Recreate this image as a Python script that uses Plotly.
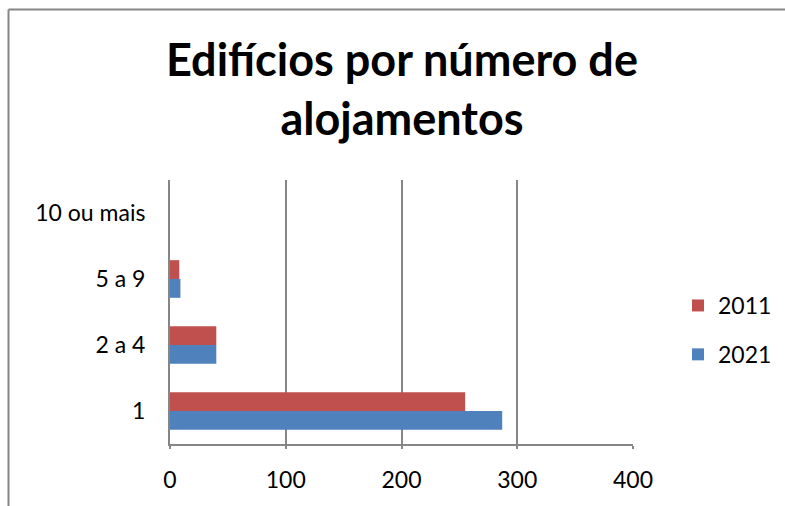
import plotly.graph_objects as go

categories = ["1", "2 a 4", "5 a 9", "10 ou mais"]
values_2021 = [287, 40, 9, 0]
values_2011 = [255, 40, 8, 0]
series_names = ["2021", "2011"]
tick_values = [0, 100, 200, 300, 400]

W, H = 785, 506
L, R, T, B = 170, 633, 180, 444
GRID = "#868686"
FONT = "Lato, Carlito, Calibri, sans-serif"

fig = go.Figure()
fig.add_trace(go.Bar(y=categories, x=values_2021, orientation="h", name=series_names[0],
                     legendgroup="g2021", legendrank=2, marker=dict(color="#4F81BD", line=dict(width=0))))
fig.add_trace(go.Bar(y=categories, x=values_2011, orientation="h", name=series_names[1],
                     legendgroup="g2011", legendrank=1, marker=dict(color="#C0504D", line=dict(width=0))))

def px_x(p):
    return (p - L) / (R - L)

def px_y(p):
    return (B - p) / (B - T)

fig.update_layout(
    width=W, height=H,
    margin=dict(l=L, r=W - R, t=T, b=H - B, pad=0, autoexpand=False),
    paper_bgcolor="white", plot_bgcolor="white",
    barmode="group", bargap=0.43, bargroupgap=0,
    font=dict(family=FONT, size=23, color="black"),
    title=dict(text="<b>Edifícios por número de<br>alojamentos</b>",
               font=dict(family=FONT, size=45, color="black"),
               x=px_x(402), xanchor="center", xref="paper",
               y=1 - 76 / H, yanchor="top", yref="container"),
    legend=dict(traceorder="grouped", x=px_x(678), xanchor="left", y=px_y(330), yanchor="middle",
                font=dict(size=23), itemwidth=30, tracegroupgap=16, bgcolor="rgba(0,0,0,0)"),
    xaxis=dict(range=[0, 400], tickvals=tick_values, showgrid=True, gridcolor=GRID, gridwidth=2,
               showline=True, linecolor=GRID, linewidth=2, zeroline=False, ticks="outside",
               ticklen=3, tickcolor=GRID, tickwidth=2, tickfont=dict(size=23), ticklabelstandoff=11,
               mirror=False, fixedrange=True, automargin=False),
    yaxis=dict(categoryorder="array", categoryarray=categories, showline=True, linecolor=GRID,
               linewidth=2, showgrid=False, ticks="", tickfont=dict(size=23), ticklabelstandoff=18,
               fixedrange=True, automargin=False),
    showlegend=True,
)

# outer chart frame (top and left edges visible)
fig.add_shape(type="line", xref="paper", yref="paper", x0=px_x(8.5), x1=px_x(800), y0=px_y(9.5), y1=px_y(9.5),
              line=dict(color=GRID, width=2))
fig.add_shape(type="line", xref="paper", yref="paper", x0=px_x(8.5), x1=px_x(8.5), y0=px_y(9.5), y1=px_y(520),
              line=dict(color=GRID, width=2))

fig.write_html("out.html")
